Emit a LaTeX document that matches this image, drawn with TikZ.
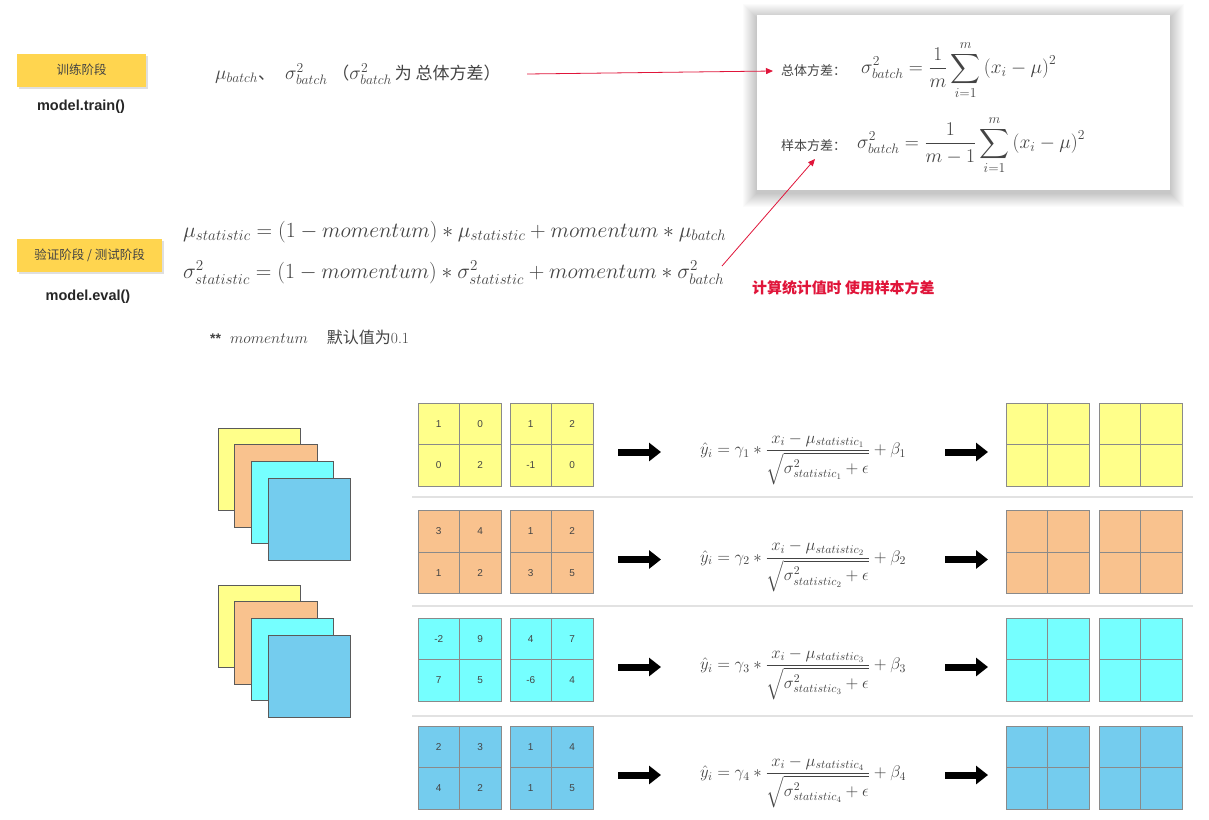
\RequirePackage{fix-cm}
\documentclass[tikz,border=0pt]{standalone}
\usepackage{fontspec}
\usepackage{amsmath}
\newfontfamily\cjk{Noto Sans CJK SC}
\newfontfamily\arial{Liberation Sans}
\usetikzlibrary{arrows.meta,shadows}
\definecolor{stageyellow}{HTML}{FFD54F}
\definecolor{cyellow}{HTML}{FFFF8A}
\definecolor{corange}{HTML}{F9C28E}
\definecolor{ccyan}{HTML}{75FFFF}
\definecolor{cblue}{HTML}{74CCEE}
\definecolor{redc}{HTML}{E0153A}
\definecolor{txt}{HTML}{444444}
\definecolor{gridgray}{HTML}{8A8A8A}
\definecolor{sqgray}{HTML}{5A5A5A}
\definecolor{sepgray}{HTML}{E2E2E2}
\newcommand\mygrid[8]{%
  \node[cell, fill=#4] (#1-a) at (#2+20.75, #3+20.75) {#5};
  \node[cell, fill=#4] (#1-b) at (#2+62.25, #3+20.75) {#6};
  \node[cell, fill=#4] (#1-c) at (#2+20.75, #3+62.25) {#7};
  \node[cell, fill=#4] (#1-d) at (#2+62.25, #3+62.25) {#8};
}
\newcommand\cjkt[1]{{\cjk\fontsize{17}{19}\selectfont #1}}
\tikzset{
  stagebox/.style={fill=stageyellow, minimum height=33pt, inner sep=0pt,
    font=\cjk\fontsize{12.5}{14}\selectfont, text=txt,
    drop shadow={opacity=0.25, shadow xshift=2pt, shadow yshift=-2pt}},
  codelabel/.style={font=\arial\bfseries\fontsize{14.5}{16}\selectfont, text=black!85, inner sep=0pt},
  cell/.style={draw=gridgray, line width=0.9pt, minimum size=41.5pt, inner sep=0pt,
    font=\arial\fontsize{10}{12}\selectfont, text=txt},
  sq/.style={draw=sqgray, line width=1pt, minimum size=82.5pt, inner sep=0pt},
  redarrow/.style={draw=redc, line width=0.8pt, -{Triangle[length=7pt,width=6pt]}},
  blockarrow/.style={line width=7pt, -{Triangle[length=12pt,width=18pt]}},
  sepline/.style={draw=sepgray, line width=1.5pt},
  mathtxt/.style={text=txt, inner sep=0pt},
}
\begin{document}
\begin{tikzpicture}[x=1pt,y=-1pt]
\useasboundingbox (0,0) rectangle (1209,819);
\fill[white] (0,0) rectangle (1209,819);

% ---- training stage ----
\node[stagebox, minimum width=129pt] (train) at (81.5,70) {训练阶段};
\node[codelabel] (traincode) at (81,107) {model.train()};
\node[mathtxt, anchor=west] (topf) at (215,74)
  {\fontsize{19.5}{22}\selectfont $\mu_{batch}$\cjkt{、}\hspace{10pt}$\sigma^2_{batch}$\hspace{5pt}\cjkt{（}$\sigma^2_{batch}$\hspace{3pt}\cjkt{为 总体方差）}};

% ---- variance box ----
\foreach \i in {1,...,14}
  \fill[black, opacity=0.014] (757-\i,15-\i+3) rectangle (1170+\i,190+\i+3);
\node[fill=white, minimum width=413pt, minimum height=175pt, inner sep=0pt] (varbox) at (963.5,102.5) {};
\node[mathtxt, anchor=west, font=\cjk\fontsize{13}{15}\selectfont] (var1label) at (781,71) {总体方差：};
\node[mathtxt, anchor=west] (var1f) at (861,70)
  {\fontsize{19.5}{23}\selectfont $\displaystyle \sigma^2_{batch} = \frac{1}{m}\sum_{i=1}^{m}\left(x_i-\mu\right)^2$};
\node[mathtxt, anchor=west, font=\cjk\fontsize{13}{15}\selectfont] (var2label) at (781,146) {样本方差：};
\node[mathtxt, anchor=west] (var2f) at (857,145)
  {\fontsize{19.5}{23}\selectfont $\displaystyle \sigma^2_{batch} = \frac{1}{m-1}\sum_{i=1}^{m}\left(x_i-\mu\right)^2$};

\coordinate (a1s) at (527,74);
\coordinate (a1e) at (773,71);
\draw[redarrow] (a1s) -- (a1e);

% ---- eval stage ----
\node[stagebox, minimum width=145pt] (eval) at (89.5,255.5) {验证阶段 / 测试阶段};
\node[codelabel] (evalcode) at (88,297) {model.eval()};
\node[mathtxt, anchor=west] (stat1) at (183,232)
  {\fontsize{21.6}{25}\selectfont $\mu_{statistic} = (1-momentum)*\mu_{statistic}+momentum*\mu_{batch}$};
\node[mathtxt, anchor=west] (stat2) at (183,273)
  {\fontsize{21.6}{25}\selectfont $\sigma^2_{statistic} = (1-momentum)*\sigma^2_{statistic}+momentum*\sigma^2_{batch}$};
\coordinate (a2s) at (722,266);
\coordinate (a2e) at (815,159);
\draw[redarrow] (a2s) -- (a2e);
\node[anchor=west, inner sep=0pt, text=redc, font=\cjk\bfseries\fontsize{14.9}{17}\selectfont] (note) at (752,288) {计算统计值时 使用样本方差};

\node[mathtxt, anchor=west] (momnote) at (210,337)
  {{\arial\bfseries\fontsize{14}{17}\selectfont **}\hspace{9pt}{\fontsize{15.6}{18}\selectfont $momentum$}\hspace{19pt}{\cjk\fontsize{16}{18}\selectfont 默认值为}{\fontsize{15.5}{17}\selectfont 0.1}};

% ---- stacks ----
\node[sq, fill=cyellow] (s1a) at (259.25,469.25) {};
\node[sq, fill=corange] (s1b) at (276,486) {};
\node[sq, fill=ccyan]   (s1c) at (292.5,502.5) {};
\node[sq, fill=cblue]   (s1d) at (309.25,519.25) {};
\node[sq, fill=cyellow] (s2a) at (259.25,626.25) {};
\node[sq, fill=corange] (s2b) at (276,643) {};
\node[sq, fill=ccyan]   (s2c) at (292.5,659.5) {};
\node[sq, fill=cblue]   (s2d) at (309.25,676.25) {};

% ---- separators ----
\draw[sepline] (412,497) -- (1193,497);
\draw[sepline] (412,606) -- (1193,606);
\draw[sepline] (412,716) -- (1193,716);

% ---- row 1 ----
\mygrid{r1i1}{418}{403}{cyellow}{1}{0}{0}{2}
\mygrid{r1i2}{510}{403}{cyellow}{1}{2}{-1}{0}
\mygrid{r1o1}{1006}{403}{cyellow}{}{}{}{}
\mygrid{r1o2}{1099}{403}{cyellow}{}{}{}{}
% ---- row 2 ----
\mygrid{r2i1}{418}{510.5}{corange}{3}{4}{1}{2}
\mygrid{r2i2}{510}{510.5}{corange}{1}{2}{3}{5}
\mygrid{r2o1}{1006}{510.5}{corange}{}{}{}{}
\mygrid{r2o2}{1099}{510.5}{corange}{}{}{}{}
% ---- row 3 ----
\mygrid{r3i1}{418}{618}{ccyan}{-2}{9}{7}{5}
\mygrid{r3i2}{510}{618}{ccyan}{4}{7}{-6}{4}
\mygrid{r3o1}{1006}{618}{ccyan}{}{}{}{}
\mygrid{r3o2}{1099}{618}{ccyan}{}{}{}{}
% ---- row 4 ----
\mygrid{r4i1}{418}{726}{cblue}{2}{3}{4}{2}
\mygrid{r4i2}{510}{726}{cblue}{1}{4}{1}{5}
\mygrid{r4o1}{1006}{726}{cblue}{}{}{}{}
\mygrid{r4o2}{1099}{726}{cblue}{}{}{}{}

% ---- formulas and arrows ----
\foreach \k/\yt in {1/403, 2/510.5, 3/618, 4/726} {
  \node[mathtxt] (f\k) at (803,\yt+56)
    {\fontsize{16.8}{20}\selectfont $\displaystyle \hat{y}_i = \gamma_{\k} * \frac{x_i-\mu_{statistic_{\k}}}{\sqrt{\sigma^2_{statistic_{\k}}+\epsilon}} + \beta_{\k}$};
  \coordinate (b\k s) at (618,\yt+49);
  \coordinate (b\k e) at (661,\yt+49);
  \coordinate (c\k s) at (945,\yt+49);
  \coordinate (c\k e) at (988,\yt+49);
  \draw[blockarrow] (b\k s) -- (b\k e);
  \draw[blockarrow] (c\k s) -- (c\k e);
}
\end{tikzpicture}
\end{document}
